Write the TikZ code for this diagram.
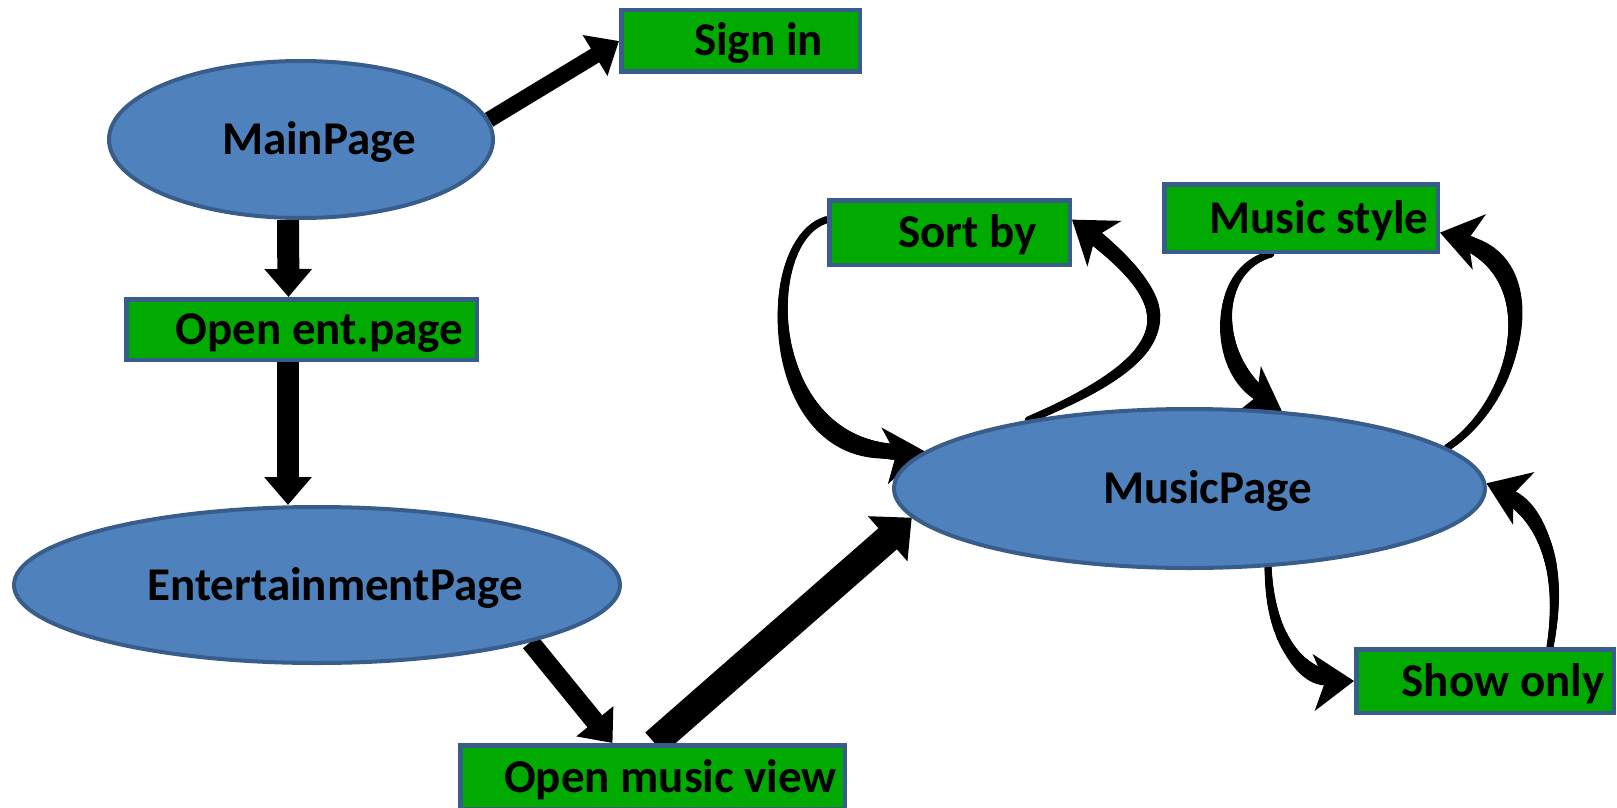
\documentclass[tikz,border=0pt]{standalone}
\usepackage{fontspec}
\setmainfont{Carlito}
\usetikzlibrary{arrows.meta,shapes.geometric,calc,decorations.markings}
\definecolor{boxgreen}{RGB}{0,170,0}
\definecolor{edgeblue}{RGB}{56,93,138}
\definecolor{ellblue}{RGB}{79,129,189}
\pgfdeclarelayer{bg}
\pgfsetlayers{bg,main}
\tikzset{
  lbl/.style={font=\fontsize{47}{50}\selectfont\bfseries, text height=30pt, text depth=0pt, inner sep=0pt},
  greenbox/.style={lbl, rectangle, draw=edgeblue, fill=boxgreen, line width=4.5pt},
  pageell/.style={lbl, ellipse, draw=edgeblue, fill=ellblue, line width=4pt},
  fat/.style={line width=#1, -{Triangle[length=28pt,width=46pt]}},
  curvy/.style={line width=7pt, -{Stealth[length=40pt,width=56pt,inset=11pt]},
    postaction={decorate, decoration={markings,
      mark=between positions 0 and -32pt step 1.5pt with {
        \pgfmathsetmacro\taperr{3.5+5*\pgfkeysvalueof{/pgf/decoration/mark info/distance from start}/\pgfdecoratedpathlength}
        \fill (0,0) circle (\taperr pt);}}}},
}
\begin{document}
\begin{tikzpicture}[x=1pt,y=-1pt]
\useasboundingbox (0,0) rectangle (1617,808);
% nodes
\node[pageell, minimum width=384pt, minimum height=157pt] (main) at (301,139.5) {\hspace*{36pt}MainPage};
\node[pageell, minimum width=606pt, minimum height=156pt] (ent) at (317,585) {\hspace*{36pt}EntertainmentPage};
\node[pageell, minimum width=591pt, minimum height=159pt] (music) at (1189.5,488.5) {\hspace*{36pt}MusicPage};
\node[greenbox, minimum width=238.5pt, minimum height=61.5pt] (signin) at (740.5,41) {\hspace*{36pt}Sign in};
\node[greenbox, minimum width=350.5pt, minimum height=60.5pt] (openent) at (301.5,329.5) {\hspace*{36pt}Open ent.page};
\node[greenbox, minimum width=240.5pt, minimum height=64.5pt] (sortby) at (949.5,232.5) {\hspace*{36pt}Sort by};
\node[greenbox, minimum width=273.5pt, minimum height=67.5pt] (musicstyle) at (1301,218) {\hspace*{36pt}Music style};
\node[greenbox, minimum width=257.5pt, minimum height=63.5pt] (showonly) at (1485,681) {\hspace*{36pt}Show only};
\node[greenbox, minimum width=384.5pt, minimum height=63.5pt] (openmusic) at (652.5,777) {\hspace*{36pt}Open music view};
\coordinate (colx) at (288,0);
% connectors
\begin{pgfonlayer}{bg}
\draw[fat=16pt] (main.6) -- (signin.west);
\draw[fat=22pt] ([xshift=-13pt]main.south) -- ([xshift=-13pt]openent.north);
\draw[fat=22pt] (openent.south -| colx) -- (ent.north -| colx);
\draw[fat=19pt] (ent.-15) -- ([xshift=-40pt]openmusic.north);
\draw[fat=28pt, -{Triangle[length=32pt,width=58pt]}] ([xshift=2pt]openmusic.north) -- (music.186);
\draw[curvy] (sortby.174) .. controls (755,240) and (760,470) .. (music.172);
\draw[curvy] (music.157) .. controls (1195,350) and (1180,300) .. (sortby.6);
\draw[curvy] ([xshift=-30pt]musicstyle.south) .. controls (1210,270) and (1210,370) .. (music.40);
\draw[curvy] (music.9) .. controls (1520,400) and (1555,260) .. (musicstyle.-6);
\draw[curvy] (music.-45) .. controls (1270,640) and (1300,683) .. (showonly.west);
\draw[curvy] ([xshift=65pt]showonly.north) .. controls (1565,560) and (1540,505) .. (music.1);
\end{pgfonlayer}
\end{tikzpicture}
\end{document}
